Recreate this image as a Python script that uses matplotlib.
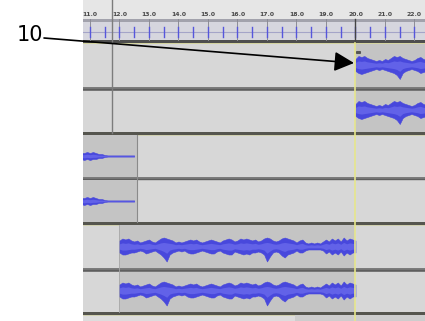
import numpy as np
import matplotlib
matplotlib.use("Agg")
import matplotlib.pyplot as plt
from matplotlib.patches import Rectangle

# ---- data ----
ruler_seconds = [11, 12, 13, 14, 15, 16, 17, 18, 19, 20, 21, 22]
ruler_labels = ["11.0", "12.0", "13.0", "14.0", "15.0", "16.0",
                "17.0", "18.0", "19.0", "20.0", "21.0", "22.0"]

# waveform envelopes, sampled every 0.1 s (21 = full scale of a channel)
track1_start, track1_end = 20.0, 22.4
track1_top = [6, 9, 8, 9, 7, 6, 5, 4, 5, 4, 6, 5, 7, 9, 8, 9, 7, 6, 5, 4, 5, 7, 8, 6, 5]
track1_bot = [6, 8, 9, 8, 7, 6, 5, 4, 5, 4, 5, 6, 7, 8, 10, 14, 8, 6, 5, 4, 5, 6, 8, 7, 6]

track2_start, track2_end = 10.7, 12.5
track2_top = [3, 3, 4, 3, 4, 3, 2, 2, 1, 0.6, 0.6, 0.6, 0.6, 0.6, 0.6, 0.6, 0.6, 0.6, 0.6]
track2_bot = [3, 4, 3, 4, 3, 3, 2, 2, 1, 0.6, 0.6, 0.6, 0.6, 0.6, 0.6, 0.6, 0.6, 0.6, 0.6]

track3_start, track3_end = 12.0, 20.0
track3_top = [6, 8, 7, 8, 6, 5, 6, 4, 5, 6, 7, 5, 4, 6, 8, 9, 8, 7, 6, 4,
              5, 4, 5, 6, 7, 6, 7, 5, 4, 5, 6, 7, 6, 5, 4, 6, 7, 8, 7, 5,
              6, 8, 7, 8, 7, 6, 7, 5, 6, 8, 9, 8, 6, 5, 6, 8, 9, 8, 7, 6,
              4, 6, 7, 4, 3, 4, 3, 4, 3, 5, 7, 5, 8, 6, 8, 5, 9, 6, 8, 7, 6]
track3_bot = [6, 8, 8, 7, 6, 6, 5, 4, 5, 7, 6, 5, 4, 6, 8, 11, 15, 8, 6, 5,
              4, 5, 4, 6, 7, 7, 6, 5, 4, 5, 6, 7, 7, 5, 4, 6, 7, 8, 8, 5,
              6, 7, 8, 7, 8, 6, 6, 5, 6, 8, 15, 10, 6, 5, 6, 9, 11, 8, 7, 6,
              4, 6, 6, 4, 3, 3, 3, 3, 3, 4, 7, 5, 8, 6, 8, 5, 9, 6, 8, 6, 6]

cursor_time = 11.75
edit_time = 20.0

# ---- colours ----
TRACK_BG = "#d7d7d7"
CLIP_BG = "#c4c4c4"
PEAK = "#4848dc"
RMS = "#6262e8"
SEP = "#7c7c7c"
BORDER = "#55554e"

fig = plt.figure(figsize=(4.25, 3.21), dpi=100)
fig.patch.set_facecolor("white")
ax = fig.add_axes([83 / 425, 0, 342 / 425, 1])
ax.set_xlim(10.763, 22.356)
ax.set_ylim(321, 0)
ax.axis("off")


def band(y0, y1, color, z=1):
    ax.axhspan(y0, y1, color=color, lw=0, zorder=z)


def box(t0, t1, y0, y1, color, z=2):
    ax.add_patch(Rectangle((t0, y0), t1 - t0, y1 - y0, color=color, lw=0, zorder=z))


def wave(t0, t1, top, bot, center):
    t = np.linspace(t0, t1, len(top))
    top = np.array(top, dtype=float)
    bot = np.array(bot, dtype=float)
    ax.fill_between(t, center - top, center + bot, color=PEAK, lw=0.4, zorder=4)
    ax.fill_between(t, center - 0.45 * top, center + 0.45 * bot, color=RMS, lw=0, zorder=5)


# ruler
band(0, 19, "#e6e6e6")
band(19, 22, "#a2a2ac")
band(22, 40, "#d6d6de")
band(40, 42.5, "#4e4e4e")
band(42.5, 43.5, "#d4d4a0")
ax.axhline(32, color="#a4a4c8", lw=0.8, zorder=2)
for s, lab in zip(ruler_seconds, ruler_labels):
    ax.plot([s, s], [19, 40], color="#8c8c96", lw=0.7, zorder=2)
    ax.text(s, 14, lab, ha="center", va="center", fontsize=4.4,
            fontweight="bold", color="#484848", zorder=3)
for s in np.arange(10.5, 22.6, 0.5):
    ax.plot([s, s], [27, 37], color="#5656dc", lw=1.0, zorder=3)

# tracks: (ch1 top, ch1 bottom, ch2 top, ch2 bottom, bottom line end)
layout = [(43.5, 87, 91, 132, 135), (135, 177, 180, 222, 225), (225, 268, 272, 312, 315)]
for y0, y1, y2, y3, y4 in layout:
    band(y0, y1, TRACK_BG)
    band(y1, y2, SEP)
    ax.axhline((y1 + y2) / 2, color="#5e5e5e", lw=1.0, zorder=1.5)
    band(y2, y3, TRACK_BG)
    band(y3, y4, BORDER)
    ax.axhline(y4 - 0.5, color="#cfcfa8", lw=0.6, zorder=1.5)
band(315, 321, "#dddddd")
box(17.95, 22.4, 315, 321, "#cdcdcd")

# clips
box(track1_start, 22.4, 43.5, 87, CLIP_BG)
box(track1_start, 22.4, 91, 132, CLIP_BG)
box(10.5, 12.58, 135, 177, CLIP_BG)
box(10.5, 12.58, 180, 222, CLIP_BG)
ax.plot([12.58, 12.58], [135, 222], color="#8a8a8a", lw=0.8, zorder=3)
box(track3_start, track3_end, 225, 268, CLIP_BG)
box(track3_start, track3_end, 272, 312, CLIP_BG)
ax.plot([track3_start, track3_start], [225, 312], color="#a8a8a8", lw=0.6, zorder=3)

# waveforms
wave(track1_start, track1_end, track1_top, track1_bot, 65)
wave(track1_start, track1_end, track1_top, track1_bot, 110)
wave(track2_start, track2_end, track2_top, track2_bot, 156)
wave(track2_start, track2_end, track2_top, track2_bot, 201)
wave(track3_start, track3_end, track3_top, track3_bot, 246.5)
wave(track3_start, track3_end, track3_top, track3_bot, 290.5)
ax.plot([20.06, 20.13], [52, 52], ls="none", marker="s", ms=1.2, color="#555555", zorder=6)

# cursor + edit lines
ax.plot([cursor_time, cursor_time], [0, 133], color="#7c7c7c", lw=1.0, zorder=6)
ax.plot([edit_time, edit_time], [19, 42], color="#444444", lw=1.0, zorder=6)
ax.plot([edit_time, edit_time], [42.5, 321], color="#e6e68c", lw=1.2, zorder=6)

# callout
fig.text(29.5 / 425, 1 - 35 / 321, "10", ha="center", va="center", fontsize=15, color="black")
ax.annotate("", xy=(19.95, 63), xycoords="data",
            xytext=(44, 321 - 38), textcoords="figure pixels",
            arrowprops=dict(arrowstyle="-|>,head_length=0.8,head_width=0.4",
                            mutation_scale=15, lw=1.2, color="black",
                            shrinkA=0, shrinkB=0),
            annotation_clip=False, zorder=10)

fig.savefig("out.png", dpi=100)
